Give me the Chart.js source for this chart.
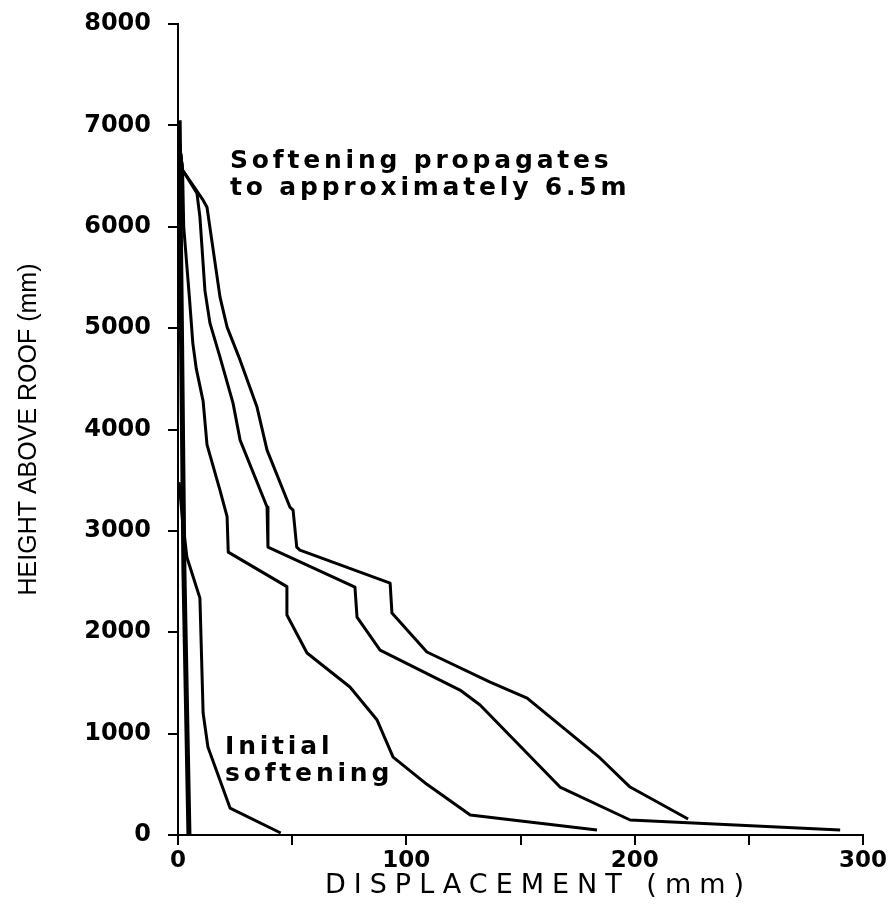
<!DOCTYPE html>
<html>
<head>
<meta charset="utf-8">
<script src="https://cdn.jsdelivr.net/npm/chart.js@4.4.1/dist/chart.umd.min.js"></script>
<style>
  html, body { margin: 0; padding: 0; background: #fff; }
  #wrap { width: 896px; height: 920px; position: relative; }
</style>
</head>
<body>
<div id="wrap"><canvas id="dispChart"></canvas></div>
<script>
// displacement (mm) / height above roof (mm), one pair per curve
const stage0Disp   = [0.5, 1.5, 2.6, 4.8];
const stage0Height = [7050, 5000, 2600, 0];

const stage1Disp   = [0.5, 2, 3.9, 9.6, 11, 13.1, 22.8, 45];
const stage1Height = [3480, 3100, 2740, 2337, 1203, 868, 266, 20];

const stage2Disp   = [0.5, 2, 2.5, 5, 6.5, 8, 11, 12.7, 18.4, 21.5, 22, 47.7, 47.7, 56.5, 75.3, 87.2, 94.2, 109, 128, 183.5];
const stage2Height = [6850, 6560, 6000, 5300, 4850, 4600, 4280, 3850, 3400, 3140, 2790, 2450, 2170, 1795, 1460, 1134, 769, 500, 197, 49];

const stage3Disp   = [0.5, 2, 8.3, 9.6, 11.8, 14, 18.4, 24.1, 27.2, 39, 39.4, 77.5, 78.4, 88.5, 123.5, 132.3, 167.3, 198, 290];
const stage3Height = [6850, 6560, 6330, 6095, 5370, 5049, 4714, 4260, 3895, 3235, 2840, 2446, 2150, 1824, 1430, 1282, 473, 148, 50];

const stage4Disp   = [0.5, 2, 11, 12.7, 18.4, 21.5, 27.2, 34.6, 39, 49, 50.4, 52, 53.4, 92.9, 93.7, 109, 136.7, 152.9, 184.8, 198, 223.4];
const stage4Height = [6850, 6560, 6262, 6193, 5306, 5010, 4684, 4221, 3797, 3235, 3205, 2840, 2811, 2485, 2189, 1805, 1509, 1351, 760, 473, 158];

const xTicks = [0, 50, 100, 150, 200, 250, 300];
const xLabels = [0, 100, 200, 300];
const yTicks = [0, 1000, 2000, 3000, 4000, 5000, 6000, 7000, 8000];

function pts(xs, ys) {
  return xs.map((v, i) => ({ x: v, y: ys[i] }));
}

const curves = [
  [stage0Disp, stage0Height, 5],
  [stage1Disp, stage1Height, 3],
  [stage2Disp, stage2Height, 3],
  [stage3Disp, stage3Height, 3],
  [stage4Disp, stage4Height, 3]
];

const notes = [
  { lines: ['Softening propagates', 'to approximately 6.5m'], x: 22.8, y: 6640 },
  { lines: ['Initial', 'softening'], x: 20.6, y: 860 }
];

const notePlugin = {
  id: 'notes',
  afterDraw(chart) {
    const ctx = chart.ctx;
    const { x, y } = chart.scales;
    ctx.save();
    ctx.fillStyle = '#000';
    ctx.textAlign = 'left';
    ctx.textBaseline = 'middle';
    ctx.font = 'bold 25px "DejaVu Sans"';
    ctx.letterSpacing = '3.8px';
    notes.forEach(n => {
      n.lines.forEach((t, i) => {
        ctx.fillText(t, x.getPixelForValue(n.x), y.getPixelForValue(n.y) + i * 27);
      });
    });
    // x axis title
    ctx.font = '27px "DejaVu Sans"';
    ctx.letterSpacing = '8px';
    ctx.textAlign = 'center';
    const area = chart.chartArea;
    ctx.fillText('DISPLACEMENT (mm)', (area.left + area.right) / 2 + 18, 886);
    ctx.restore();
  }
};

const ctx = document.getElementById('dispChart').getContext('2d');
const dispChart = new Chart(ctx, {
  type: 'line',
  data: {
    datasets: curves.map(c => ({
      data: pts(c[0], c[1]),
      borderColor: '#000',
      borderWidth: c[2],
      borderJoinStyle: 'round',
      pointRadius: 0,
      tension: 0,
      fill: false
    }))
  },
  options: {
    responsive: true,
    maintainAspectRatio: false,
    animation: false,
    layout: { padding: { top: 24, right: 33, left: 0, bottom: 0 } },
    plugins: { legend: { display: false }, tooltip: { enabled: false } },
    scales: {
      x: {
        type: 'linear',
        min: 0,
        max: 300,
        afterBuildTicks: s => { s.ticks = xTicks.map(v => ({ value: v })); },
        afterFit: s => { s.height = 85; },
        border: { display: true, color: '#000', width: 2 },
        grid: { drawOnChartArea: false, drawTicks: true, tickLength: 10, color: '#000', lineWidth: 2 },
        ticks: {
          color: '#000',
          padding: 2,
          maxRotation: 0,
          autoSkip: false,
          font: { family: '"DejaVu Sans"', size: 23, weight: 'bold' },
          callback: v => xLabels.includes(v) ? String(v) : ''
        }
      },
      y: {
        type: 'linear',
        min: 0,
        max: 8000,
        afterBuildTicks: s => { s.ticks = yTicks.map(v => ({ value: v })); },
        afterFit: s => { s.width = 178; s.paddingTop = 12; s.paddingBottom = 12; },
        border: { display: true, color: '#000', width: 2 },
        grid: { drawOnChartArea: false, drawTicks: true, tickLength: 10, color: '#000', lineWidth: 2 },
        title: {
          display: true,
          text: 'HEIGHT ABOVE ROOF (mm)',
          color: '#000',
          font: { family: '"Liberation Sans"', size: 25 },
          padding: { top: 14, bottom: 0 }
        },
        ticks: {
          color: '#000',
          padding: 17,
          autoSkip: false,
          font: { family: '"DejaVu Sans"', size: 24, weight: 'bold' },
          callback: v => String(v)
        }
      }
    }
  },
  plugins: [notePlugin]
});
</script>
</body>
</html>
